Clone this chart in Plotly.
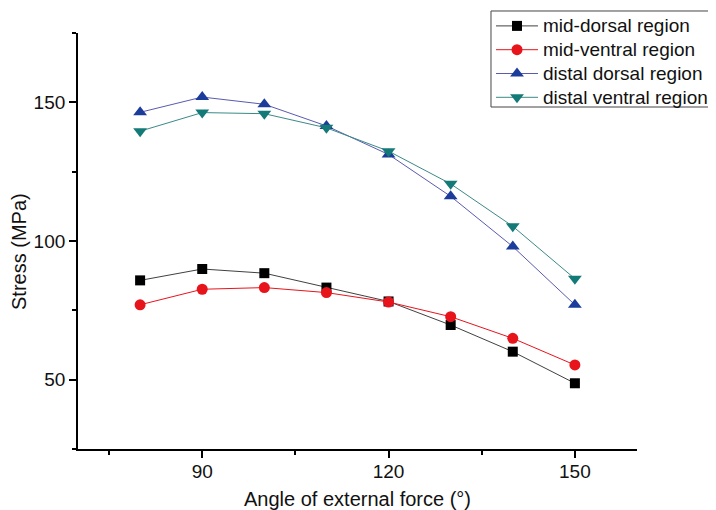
import plotly.graph_objects as go

angles = [80, 90, 100, 110, 120, 130, 140, 150]
mid_dorsal = [85.8, 89.9, 88.4, 83.2, 78.2, 69.7, 60.1, 48.7]
mid_ventral = [77.0, 82.6, 83.2, 81.4, 78.0, 72.7, 64.9, 55.3]
distal_dorsal = [146.4, 151.9, 149.3, 141.5, 131.2, 116.1, 98.0, 77.0]
distal_ventral = [139.6, 146.3, 145.9, 140.8, 132.4, 120.6, 105.3, 86.4]

series = [
    ("mid-dorsal region", mid_dorsal, "#000000", "#404040", "square", 10),
    ("mid-ventral region", mid_ventral, "#e8141c", "#e8141c", "circle", 11),
    ("distal dorsal region", distal_dorsal, "#1c3c9c", "#5a5ab0", "triangle-up", 12),
    ("distal ventral region", distal_ventral, "#137a78", "#3a8a88", "triangle-down", 12),
]

fig = go.Figure()
for name, vals, mc, lc, sym, sz in series:
    fig.add_trace(go.Scatter(
        x=angles, y=vals, mode="lines+markers",
        name='<span style="font-size:19px">' + name + '</span>',
        line=dict(color=lc, width=1),
        marker=dict(symbol=sym, size=sz, color=mc, line=dict(width=0)),
    ))

font = "Liberation Sans, Arial, sans-serif"
# the page places the figure 8px from the top-left corner
fig.update_layout(
    width=708, height=502,
    margin=dict(l=70, r=79, t=25, b=61, autoexpand=False),
    plot_bgcolor="white", paper_bgcolor="white",
    font=dict(family=font, size=19, color="#111111"),
    showlegend=True,
    legend=dict(
        x=0.6808, xanchor="left", y=1.002, yanchor="top",
        xref="container", yref="container",
        borderwidth=1, bordercolor="rgba(0,0,0,0)", bgcolor="rgba(0,0,0,0)",
        font=dict(size=16, family=font),
        tracegroupgap=0, itemsizing="trace", itemwidth=42,
        entrywidth=176, entrywidthmode="pixels",
    ),
    shapes=[dict(
        type="rect", xref="paper", yref="paper",
        x0=0.7388, x1=1.1485, y0=0.8221, y1=1.0529,
        line=dict(color="#444444", width=1), fillcolor="rgba(0,0,0,0)",
        layer="below",
    )],
    annotations=[dict(
        text="Stress (MPa)", xref="paper", yref="paper",
        x=-0.1055, y=0.4736, xanchor="center", yanchor="middle",
        textangle=-90, showarrow=False, font=dict(size=20),
    )],
)
fig.update_xaxes(
    range=[70, 160], tick0=90, dtick=30, ticks="outside", ticklen=7, tickwidth=1.5,
    showline=True, linecolor="black", linewidth=1.8, showgrid=False, zeroline=False,
    tickcolor="black", automargin=False, ticklabelstandoff=-3,
    minor=dict(ticks="outside", ticklen=4, dtick=15, tick0=75, tickcolor="black", tickwidth=1.5),
    title=dict(text="Angle of external force (°)", font=dict(size=20), standoff=14),
)
fig.update_yaxes(
    range=[25, 175], tick0=50, dtick=50, ticks="outside", ticklen=7, tickwidth=1.5,
    showline=True, linecolor="black", linewidth=1.8, showgrid=False, zeroline=False,
    tickcolor="black", automargin=False,
    minor=dict(ticks="outside", ticklen=4, dtick=25, tick0=25, tickcolor="black", tickwidth=1.5),
)

fig.write_html("out.html")
